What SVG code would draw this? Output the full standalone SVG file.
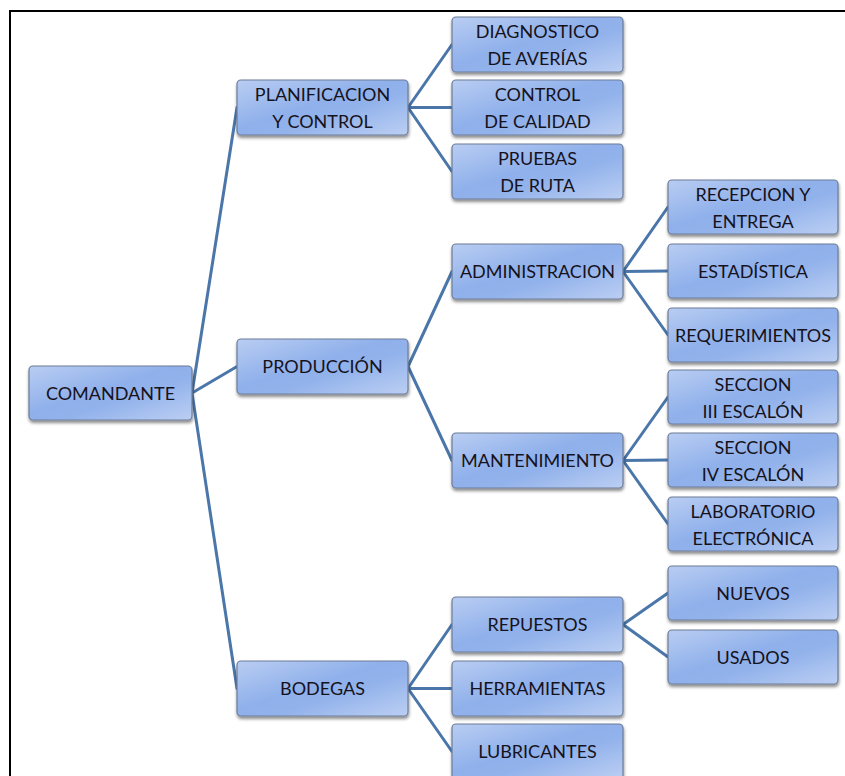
<svg xmlns="http://www.w3.org/2000/svg" width="845" height="776" viewBox="0 0 845 776">
  <style>
    .box { fill: url(#boxFill); stroke: #6d7c98; stroke-width: 1.2; filter: url(#shadow); }
    .lbl { font-family: Lato, "Liberation Sans", sans-serif; font-size: 18px; fill: #16121c; text-anchor: middle; }
    .link { stroke: #4a76aa; stroke-width: 3; fill: none; stroke-linecap: round; }
    .frame { stroke: #000; stroke-width: 2; fill: none; }
  </style>
  <defs>
    <linearGradient id="boxFill" x1="0" y1="0" x2="1" y2="1">
      <stop offset="0" stop-color="#b9cdf2"/>
      <stop offset="0.45" stop-color="#8fb0eb"/>
      <stop offset="0.6" stop-color="#92b2eb"/>
      <stop offset="1" stop-color="#bccff3"/>
    </linearGradient>
    <filter id="shadow" x="-10%" y="-10%" width="120%" height="140%">
      <feDropShadow dx="0.5" dy="2.5" stdDeviation="1.6" flood-color="#000" flood-opacity="0.45"/>
    </filter>
  </defs>

  <!-- page frame -->
  <path class="frame" d="M10 776 V11 H845"/>

  <!-- connectors -->
  <g id="connectors">
    <path class="link" d="M192 393 L237 107.5 M192 393 L237 366.5 M192 393 L237 688.5"/>
    <path class="link" d="M408 107.5 L452 44.5 M408 107.5 L452 107.5 M408 107.5 L452 171.5"/>
    <path class="link" d="M408 366.5 L452 271.5 M408 366.5 L452 460.5"/>
    <path class="link" d="M408 688.5 L452 624.5 M408 688.5 L452 688.5 M408 688.5 L452 751.5"/>
    <path class="link" d="M623 271.5 L668 207 M623 271.5 L668 271 M623 271.5 L668 335"/>
    <path class="link" d="M623 460.5 L668 397 M623 460.5 L668 460 M623 460.5 L668 524"/>
    <path class="link" d="M623 624.5 L668 593 M623 624.5 L668 657"/>
  </g>

  <!-- root -->
  <g id="comandante">
    <rect class="box" x="29" y="366" width="163" height="54" rx="4"/>
    <text class="lbl" x="110.5" y="399.5">COMANDANTE</text>
  </g>

  <!-- first level -->
  <g id="planificacion">
    <rect class="box" x="237" y="80" width="171" height="55" rx="4"/>
    <text class="lbl" x="322.5" y="101">PLANIFICACION</text>
    <text class="lbl" x="322.5" y="128">Y CONTROL</text>
  </g>
  <g id="produccion">
    <rect class="box" x="237" y="339" width="171" height="55" rx="4"/>
    <text class="lbl" x="322.5" y="373">PRODUCCIÓN</text>
  </g>
  <g id="bodegas">
    <rect class="box" x="237" y="661" width="171" height="55" rx="4"/>
    <text class="lbl" x="322.5" y="695">BODEGAS</text>
  </g>

  <!-- second level -->
  <g id="diagnostico">
    <rect class="box" x="452" y="17" width="171" height="55" rx="4"/>
    <text class="lbl" x="537.5" y="37.5">DIAGNOSTICO</text>
    <text class="lbl" x="537.5" y="64.5">DE AVERÍAS</text>
  </g>
  <g id="control-calidad">
    <rect class="box" x="452" y="80" width="171" height="55" rx="4"/>
    <text class="lbl" x="537.5" y="101">CONTROL</text>
    <text class="lbl" x="537.5" y="128">DE CALIDAD</text>
  </g>
  <g id="pruebas-ruta">
    <rect class="box" x="452" y="144" width="171" height="55" rx="4"/>
    <text class="lbl" x="537.5" y="165">PRUEBAS</text>
    <text class="lbl" x="537.5" y="192">DE RUTA</text>
  </g>
  <g id="administracion">
    <rect class="box" x="452" y="244" width="171" height="55" rx="4"/>
    <text class="lbl" x="537.5" y="278">ADMINISTRACION</text>
  </g>
  <g id="mantenimiento">
    <rect class="box" x="452" y="433" width="171" height="55" rx="4"/>
    <text class="lbl" x="537.5" y="467">MANTENIMIENTO</text>
  </g>
  <g id="repuestos">
    <rect class="box" x="452" y="597" width="171" height="55" rx="4"/>
    <text class="lbl" x="537.5" y="631">REPUESTOS</text>
  </g>
  <g id="herramientas">
    <rect class="box" x="452" y="661" width="171" height="55" rx="4"/>
    <text class="lbl" x="537.5" y="695">HERRAMIENTAS</text>
  </g>
  <g id="lubricantes">
    <rect class="box" x="452" y="724" width="171" height="55" rx="4"/>
    <text class="lbl" x="537.5" y="758">LUBRICANTES</text>
  </g>

  <!-- third level -->
  <g id="recepcion">
    <rect class="box" x="668" y="180" width="170" height="54" rx="4"/>
    <text class="lbl" x="753" y="200.5">RECEPCION Y</text>
    <text class="lbl" x="753" y="227.5">ENTREGA</text>
  </g>
  <g id="estadistica">
    <rect class="box" x="668" y="244" width="170" height="54" rx="4"/>
    <text class="lbl" x="753" y="277.5">ESTADÍSTICA</text>
  </g>
  <g id="requerimientos">
    <rect class="box" x="668" y="308" width="170" height="54" rx="4"/>
    <text class="lbl" x="753" y="341.5">REQUERIMIENTOS</text>
  </g>
  <g id="seccion-iii">
    <rect class="box" x="668" y="370" width="170" height="54" rx="4"/>
    <text class="lbl" x="753" y="390.5">SECCION</text>
    <text class="lbl" x="753" y="417.5">III ESCALÓN</text>
  </g>
  <g id="seccion-iv">
    <rect class="box" x="668" y="433" width="170" height="54" rx="4"/>
    <text class="lbl" x="753" y="453.5">SECCION</text>
    <text class="lbl" x="753" y="480.5">IV ESCALÓN</text>
  </g>
  <g id="laboratorio">
    <rect class="box" x="668" y="497" width="170" height="54" rx="4"/>
    <text class="lbl" x="753" y="517.5">LABORATORIO</text>
    <text class="lbl" x="753" y="544.5">ELECTRÓNICA</text>
  </g>
  <g id="nuevos">
    <rect class="box" x="668" y="566" width="170" height="54" rx="4"/>
    <text class="lbl" x="753" y="599.5">NUEVOS</text>
  </g>
  <g id="usados">
    <rect class="box" x="668" y="630" width="170" height="54" rx="4"/>
    <text class="lbl" x="753" y="663.5">USADOS</text>
  </g>
</svg>
